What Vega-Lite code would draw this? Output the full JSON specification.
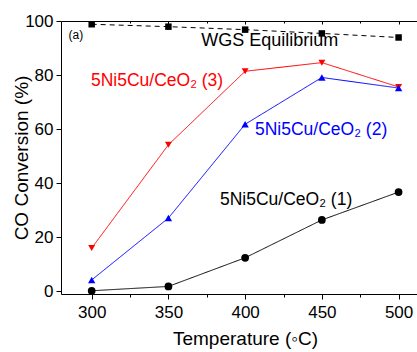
{
  "$schema": "https://vega.github.io/schema/vega-lite/v6.json",
  "width": 356,
  "height": 273,
  "autosize": "none",
  "padding": {"left": 61, "top": 21, "right": 0, "bottom": 58},
  "background": "white",
  "config": {
    "view": {"stroke": null},
    "font": "Liberation Sans",
    "axis": {
      "grid": false,
      "domainColor": "black",
      "domainWidth": 1,
      "tickColor": "black",
      "tickWidth": 1,
      "labelFont": "Liberation Sans",
      "labelFontSize": 17,
      "labelColor": "black",
      "titleFont": "Liberation Sans",
      "titleFontSize": 19,
      "titleFontWeight": "normal",
      "titleColor": "black"
    }
  },
  "datasets": {
    "conversion": [
      {"T": 300, "conv": 98.8, "series": "WGS"},
      {"T": 350, "conv": 97.9, "series": "WGS"},
      {"T": 400, "conv": 96.8, "series": "WGS"},
      {"T": 450, "conv": 95.4, "series": "WGS"},
      {"T": 500, "conv": 93.9, "series": "WGS"},
      {"T": 300, "conv": 16.0, "series": "3"},
      {"T": 350, "conv": 54.2, "series": "3"},
      {"T": 400, "conv": 81.4, "series": "3"},
      {"T": 450, "conv": 84.6, "series": "3"},
      {"T": 500, "conv": 75.6, "series": "3"},
      {"T": 300, "conv": 4.2, "series": "2"},
      {"T": 350, "conv": 27.1, "series": "2"},
      {"T": 400, "conv": 61.8, "series": "2"},
      {"T": 450, "conv": 79.1, "series": "2"},
      {"T": 500, "conv": 75.2, "series": "2"},
      {"T": 300, "conv": 0.2, "series": "1"},
      {"T": 350, "conv": 1.8, "series": "1"},
      {"T": 400, "conv": 12.4, "series": "1"},
      {"T": 450, "conv": 26.4, "series": "1"},
      {"T": 500, "conv": 36.7, "series": "1"}
    ],
    "labels": [
      {"T": 342.6, "conv": 76.0, "series": "3", "label": "5Ni5Cu/CeO₂ (3)"},
      {"T": 449.5, "conv": 57.8, "series": "2", "label": "5Ni5Cu/CeO₂ (2)"},
      {"T": 426.7, "conv": 31.9, "series": "1", "label": "5Ni5Cu/CeO₂ (1)"}
    ],
    "equilibrium": [
      {"T": 416, "conv": 90.6, "series": "WGS", "label": "WGS Equilibrium"}
    ],
    "panel": [
      {"T": 289.7, "conv": 93.4, "label": "(a)"}
    ]
  },
  "resolve": {"axis": {"x": "independent"}},
  "layer": [
    {
      "data": {"name": "conversion"},
      "mark": {"type": "line", "strokeWidth": 1},
      "encoding": {
        "x": {
          "field": "T", "type": "quantitative",
          "scale": {"domain": [280, 512], "nice": false, "zero": false},
          "axis": {
            "orient": "bottom",
            "title": "Temperature (◦C)",
            "titleX": 184,
            "titlePadding": 9,
            "values": [300, 325, 350, 375, 400, 425, 450, 475, 500],
            "labelExpr": "datum.value % 50 === 0 ? datum.label : ''",
            "tickSize": {"condition": {"test": "datum.value % 50 !== 0", "value": 3}, "value": 5},
            "labelPadding": 5
          }
        },
        "y": {
          "field": "conv", "type": "quantitative",
          "scale": {"domain": [-1, 100], "nice": false, "zero": false},
          "axis": {
            "title": "CO Conversion (%)",
            "titleX": -34,
            "titleBaseline": "alphabetic",
            "values": [0, 10, 20, 30, 40, 50, 60, 70, 80, 90, 100],
            "labelExpr": "datum.value % 20 === 0 ? datum.label : ''",
            "tickSize": {"condition": {"test": "datum.value % 20 !== 0", "value": 3}, "value": 5},
            "labelPadding": 3
          }
        },
        "color": {
          "field": "series", "type": "nominal",
          "scale": {"domain": ["WGS", "3", "2", "1"], "range": ["black", "#ff0000", "#0000ff", "black"]},
          "legend": null
        },
        "strokeDash": {
          "field": "series", "type": "nominal",
          "scale": {"domain": ["WGS", "3", "2", "1"], "range": [[5, 4], [1, 0], [1, 0], [1, 0]]},
          "legend": null
        }
      }
    },
    {
      "data": {"name": "conversion"},
      "mark": {"type": "point", "filled": true, "opacity": 1},
      "encoding": {
        "x": {"field": "T", "type": "quantitative", "axis": null},
        "y": {"field": "conv", "type": "quantitative"},
        "color": {"field": "series", "type": "nominal", "legend": null},
        "shape": {
          "field": "series", "type": "nominal",
          "scale": {"domain": ["WGS", "3", "2", "1"], "range": ["square", "triangle-down", "triangle-up", "circle"]},
          "legend": null
        },
        "size": {
          "field": "series", "type": "nominal",
          "scale": {"domain": ["WGS", "3", "2", "1"], "range": [42, 60, 60, 50]},
          "legend": null
        }
      }
    },
    {
      "data": {"name": "labels"},
      "mark": {"type": "text", "fontSize": 17.5, "baseline": "alphabetic", "align": "center", "font": "Liberation Sans"},
      "encoding": {
        "x": {"field": "T", "type": "quantitative", "axis": null},
        "y": {"field": "conv", "type": "quantitative"},
        "text": {"field": "label"},
        "color": {"field": "series", "type": "nominal", "legend": null}
      }
    },
    {
      "data": {"name": "equilibrium"},
      "mark": {"type": "text", "fontSize": 18, "baseline": "alphabetic", "align": "center", "color": "black", "font": "Liberation Sans"},
      "encoding": {
        "x": {"field": "T", "type": "quantitative", "axis": null},
        "y": {"field": "conv", "type": "quantitative"},
        "text": {"field": "label"}
      }
    },
    {
      "data": {"name": "panel"},
      "mark": {"type": "text", "fontSize": 12, "baseline": "alphabetic", "align": "center", "color": "black", "font": "Liberation Sans"},
      "encoding": {
        "x": {
          "field": "T", "type": "quantitative",
          "axis": {
            "orient": "top",
            "title": null,
            "labels": false,
            "values": [300, 325, 350, 375, 400, 425, 450, 475, 500],
            "tickSize": {"condition": {"test": "datum.value % 50 !== 0", "value": -2}, "value": -3}
          }
        },
        "y": {"field": "conv", "type": "quantitative"},
        "text": {"field": "label"}
      }
    }
  ]
}
